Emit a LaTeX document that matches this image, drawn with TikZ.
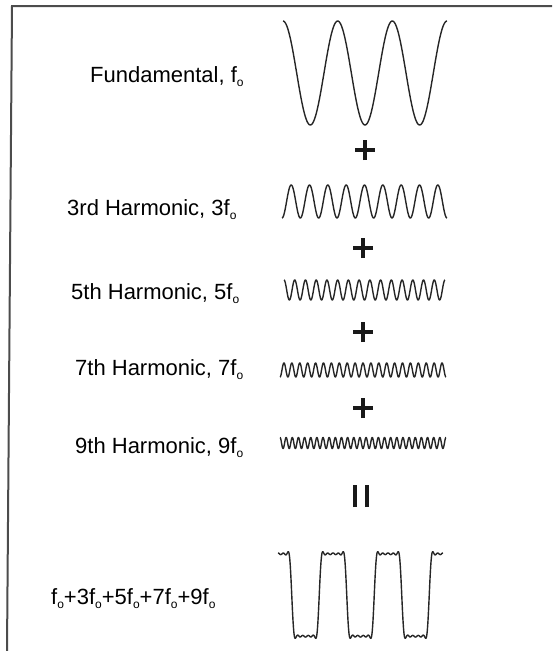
\documentclass[tikz,border=0pt]{standalone}
\usepackage{fontspec}
\setmainfont{Liberation Sans}
\newcommand{\subo}{\raisebox{-4.5pt}{\fontsize{12}{12}\selectfont o}}
\begin{document}
\begin{tikzpicture}[x=1pt,y=-1pt,
  lbl/.style={anchor=base west,inner sep=0pt,font=\fontsize{22}{24}\selectfont},
  wave/.style={line width=1.4pt,color=black!85,line join=round},
  plusmark/.style={line width=4.5pt,color=black!90},
  frameline/.style={line width=2pt,color=black!70}]
\useasboundingbox (0,0) rectangle (552,651);
% frame
\coordinate (ftl) at (12,6);
\coordinate (ftr) at (552,6);
\coordinate (fbl) at (7,651);
\draw[frameline] (ftr) -- (ftl) -- (fbl);
% labels
\node[lbl] (l1) at (90,82) {Fundamental, f\subo};
\node[lbl] (l3) at (67,215) {3rd Harmonic, 3f\subo};
\node[lbl] (l5) at (71,299) {5th Harmonic, 5f\subo};
\node[lbl] (l7) at (75,375) {7th Harmonic, 7f\subo};
\node[lbl] (l9) at (75,453) {9th Harmonic, 9f\subo};
\node[lbl] (ls) at (51,604) {f\subo+3f\subo+5f\subo+7f\subo+9f\subo};
% waves
\draw[wave] plot[domain=283:447,samples=200] (\x,{73-52*cos((\x-283)*(360/54.67))});
\draw[wave] plot[domain=282:447,samples=400] (\x,{201.5+16.5*cos((\x-282)*(1080/55))});
\draw[wave] plot[domain=284:445,samples=500] (\x,{290-10*cos((\x-284)*(1800/53.67))});
\draw[wave] plot[domain=280:446,samples=700] (\x,{370+7*cos((\x-280)*(2520/55.33))});
\draw[wave] plot[domain=280:446,samples=900] (\x,{443-5.5*cos((\x-280)*(3240/55.33))});
\draw[wave] plot[domain=278:443,samples=900] (\x,{595-52*(cos((\x-278)*(360/55))-0.93*cos((\x-278)*(1080/55))/3+0.8*cos((\x-278)*(1800/55))/5-0.6*cos((\x-278)*(2520/55))/7+0.4*cos((\x-278)*(3240/55))/9)});
% plus signs
\foreach \n/\px/\py in {p1/365/150,p2/363/248,p3/363/332,p4/363/408}{
  \coordinate (\n) at (\px,\py);
  \draw[plusmark] ([xshift=-10pt]\n) -- ([xshift=10pt]\n);
  \draw[plusmark] ([yshift=-10pt]\n) -- ([yshift=10pt]\n);
}
% equals sign (vertical bars)
\coordinate (eq) at (361,496);
\draw[plusmark] ([shift={(-6pt,-11pt)}]eq) -- ([shift={(-6pt,11pt)}]eq);
\draw[plusmark] ([shift={(6pt,-11pt)}]eq) -- ([shift={(6pt,11pt)}]eq);
\end{tikzpicture}
\end{document}
